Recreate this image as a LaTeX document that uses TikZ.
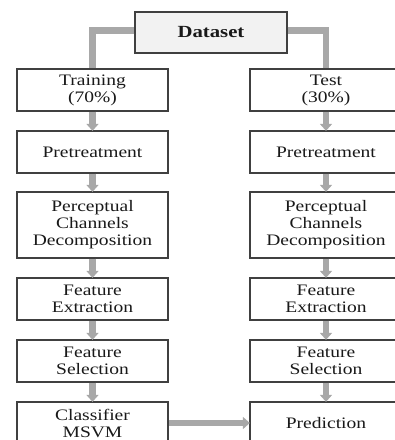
\documentclass[tikz,border=0pt]{standalone}
\usepackage{fontspec}
\setmainfont{Liberation Serif}[FakeStretch=1.22]
\usetikzlibrary{arrows.meta}

\definecolor{linkgray}{HTML}{A8A8A8}
\definecolor{boxline}{HTML}{404040}
\definecolor{topfill}{HTML}{F2F2F2}

\tikzset{
  stage/.style={draw=boxline, line width=1.3pt, fill=white, minimum width=151pt,
    minimum height=42pt, align=center, text=black!90, inner sep=0pt,
    font=\fontsize{16}{17}\selectfont},
  link/.style={draw=linkgray, line width=6.5pt},
  flow/.style={link, -{Triangle[width=12pt,length=7pt]}, shorten >=-0.5pt}
}

\begin{document}
\begin{tikzpicture}[x=1pt, y=-1pt]
        \clip (0,0) rectangle (395,440);

        % dataset on top
        \node[stage, fill=topfill, minimum width=152pt, minimum height=41pt,
          font=\fontsize{17}{18}\selectfont\bfseries] (data) at (211,32.5) {Dataset};

        % training side
        \node[stage] (train) at (92.5,90) {Training\\(70\%)};
        \node[stage] (preA) at (92.5,152) {Pretreatment};
        \node[stage, minimum height=66pt] (pcdA) at (92.5,225) {Perceptual\\Channels\\Decomposition};
        \node[stage] (extA) at (92.5,299) {Feature\\Extraction};
        \node[stage] (selA) at (92.5,361) {Feature\\Selection};
        \node[stage] (msvm) at (92.5,423) {Classifier\\MSVM};

        % test side
        \node[stage, minimum width=152pt] (test) at (326,90) {Test\\(30\%)};
        \node[stage, minimum width=152pt] (preB) at (326,152) {Pretreatment};
        \node[stage, minimum width=152pt, minimum height=66pt] (pcdB) at (326,225) {Perceptual\\Channels\\Decomposition};
        \node[stage, minimum width=152pt] (extB) at (326,299) {Feature\\Extraction};
        \node[stage, minimum width=152pt] (selB) at (326,361) {Feature\\Selection};
        \node[stage, minimum width=152pt] (pred) at (326,423) {Prediction};

        % split of the dataset
        \draw[link] ([yshift=2pt]data.west) -| (train.north);
        \draw[link] ([yshift=2pt]data.east) -| (test.north);

        \foreach \a/\b in {train/preA, preA/pcdA, pcdA/extA, extA/selA, selA/msvm,
                           test/preB, preB/pcdB, pcdB/extB, extB/selB, selB/pred}
            \draw[flow] (\a.south) -- (\b.north);

        \draw[flow] (msvm.east) -- (pred.west);
\end{tikzpicture}
\end{document}
